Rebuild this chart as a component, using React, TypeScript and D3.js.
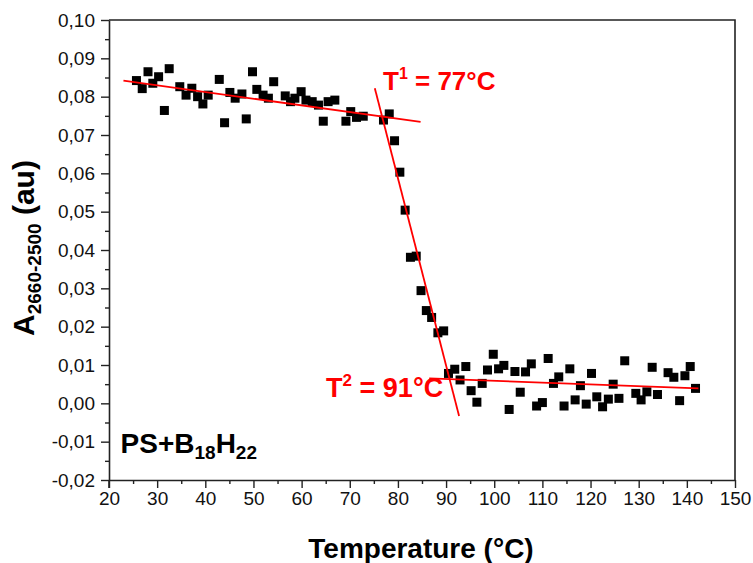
import { useEffect, useRef } from 'react'
import * as d3 from 'd3'

const temperature = [
  25.7, 26.9, 28.1, 29.1, 30.3, 31.5, 32.5, 34.7, 36.0, 37.2, 38.4, 39.5, 40.6, 42.9, 44.0, 45.1,
  46.2, 47.6, 48.5, 49.8, 50.7, 52.0, 53.1, 54.2, 56.6, 57.7, 58.6, 59.9, 60.9, 62.2, 63.5, 64.5,
  65.5, 66.9, 69.2, 70.2, 71.4, 72.8, 77.0, 78.2, 79.3, 80.4, 81.5, 82.6, 83.8, 84.8, 85.9, 87.0,
  88.3, 89.5, 90.5, 91.8, 92.9, 94.1, 95.2, 96.4, 97.5, 98.6, 99.8, 100.9, 102.0, 103.1, 104.3,
  105.4, 106.5, 107.7, 108.8, 110.0, 111.2, 112.3, 113.4, 114.5, 115.7, 116.8, 117.9, 119.1,
  120.2, 121.3, 122.5, 123.7, 124.7, 125.9, 127.1, 129.4, 130.5, 131.7, 132.8, 133.9, 136.1,
  137.3, 138.5, 139.6, 140.7, 141.8,
]
const absorbance = [
  0.0842, 0.0821, 0.0865, 0.0835, 0.0852, 0.0764, 0.0873, 0.0826, 0.0804, 0.0822, 0.08, 0.0781,
  0.0804, 0.0845, 0.0732, 0.0811, 0.0796, 0.0807, 0.0742, 0.0865, 0.0819, 0.0804, 0.0796, 0.0839,
  0.0802, 0.0787, 0.0796, 0.0813, 0.0791, 0.0787, 0.0778, 0.0736, 0.0787, 0.0791, 0.0736, 0.0761,
  0.0746, 0.0749, 0.0739, 0.0755, 0.0685, 0.0603, 0.0504, 0.0381, 0.0384, 0.0294, 0.0242, 0.0224,
  0.0184, 0.0189, 0.0078, 0.0089, 0.0061, 0.0096, 0.0033, 0.0003, 0.0052, 0.0087, 0.0128, 0.009,
  0.0099, -0.0016, 0.0083, 0.0029, 0.0082, 0.0103, -0.0007, 0.0002, 0.0117, 0.0052, 0.0069,
  -0.0007, 0.009, 0.0009, 0.0046, -0.0002, 0.0078, 0.0017, -0.0009, 0.0011, 0.005, 0.0013,
  0.0111, 0.0026, 0.0009, 0.003, 0.0094, 0.0023, 0.008, 0.0068, 0.0007, 0.0072, 0.0096, 0.0039,
]

// red linear fits: [x0, y0, x1, y1]
const fitLines = [
  [23.0, 0.0842, 84.7, 0.0734],
  [75.2, 0.0822, 92.7, -0.0033],
  [86.5, 0.0065, 142.4, 0.0039],
]

const xTicks = [20, 30, 40, 50, 60, 70, 80, 90, 100, 110, 120, 130, 140, 150]
const yTicks = [-0.02, -0.01, 0, 0.01, 0.02, 0.03, 0.04, 0.05, 0.06, 0.07, 0.08, 0.09, 0.1]

const fmtY = (d: number) => d.toFixed(2).replace('.', ',')

export default function App() {
  const svgRef = useRef<SVGSVGElement>(null)

  useEffect(() => {
    const W = 753
    const H = 563
    const margin = { top: 20, right: 18, bottom: 83, left: 109 }
    const innerW = W - margin.left - margin.right
    const innerH = H - margin.top - margin.bottom
    const font = '"Liberation Sans", Arial, sans-serif'

    const x = d3.scaleLinear().domain([20, 150]).range([0, innerW])
    const y = d3.scaleLinear().domain([-0.02, 0.1]).range([innerH, 0])

    const svg = d3.select(svgRef.current)
    svg.selectAll('*').remove()
    svg.attr('width', W).attr('height', H)

    const g = svg.append('g').attr('transform', `translate(${margin.left},${margin.top})`)
    const axisColor = '#222'

    // frame top/right
    g.append('path')
      .attr('d', `M0,0H${innerW}V${innerH}`)
      .attr('fill', 'none').attr('stroke', axisColor).attr('stroke-width', 1.6)

    // x axis
    const xMinor = d3.range(25, 150, 10)
    g.append('g')
      .attr('transform', `translate(0,${innerH})`)
      .call(d3.axisBottom(x).tickValues(xMinor).tickSize(4).tickFormat(() => ''))
      .call((ax) => ax.select('.domain').remove())
      .call((ax) => ax.selectAll('.tick line').attr('stroke', axisColor).attr('stroke-width', 1.4))
    g.append('g')
      .attr('transform', `translate(0,${innerH})`)
      .call(d3.axisBottom(x).tickValues(xTicks).tickSize(8).tickSizeOuter(0).tickPadding(4).tickFormat(d3.format('d')))
      .call((ax) => ax.select('.domain').attr('stroke', axisColor).attr('stroke-width', 1.6))
      .call((ax) => ax.selectAll('.tick line').attr('stroke', axisColor).attr('stroke-width', 1.4))
      .call((ax) => ax.selectAll('text').attr('fill', '#111').attr('font-size', 19).attr('font-family', font))

    // y axis
    const yMinor = d3.range(-0.015, 0.1, 0.01)
    g.append('g')
      .call(d3.axisLeft(y).tickValues(yMinor).tickSize(4).tickFormat(() => ''))
      .call((ax) => ax.select('.domain').remove())
      .call((ax) => ax.selectAll('.tick line').attr('stroke', axisColor).attr('stroke-width', 1.4))
    g.append('g')
      .call(d3.axisLeft(y).tickValues(yTicks).tickSize(8).tickSizeOuter(0).tickPadding(6).tickFormat((d) => fmtY(+d)))
      .call((ax) => ax.select('.domain').attr('stroke', axisColor).attr('stroke-width', 1.6))
      .call((ax) => ax.selectAll('.tick line').attr('stroke', axisColor).attr('stroke-width', 1.4))
      .call((ax) => ax.selectAll('text').attr('fill', '#111').attr('font-size', 19).attr('font-family', font))

    // y axis runs a little below the x axis, as in the reference
    g.append('line').attr('x1', 0).attr('x2', 0).attr('y1', innerH).attr('y2', innerH + 8)
      .attr('stroke', axisColor).attr('stroke-width', 1.6)

    // data squares
    const s = 9
    g.append('g').selectAll('rect')
      .data(temperature.map((t, i) => [t, absorbance[i]]))
      .join('rect')
      .attr('x', (d) => x(d[0]) - s / 2)
      .attr('y', (d) => y(d[1]) - s / 2)
      .attr('width', s).attr('height', s)
      .attr('fill', '#000')

    // fit lines
    g.append('g').selectAll('line')
      .data(fitLines)
      .join('line')
      .attr('x1', (d) => x(d[0])).attr('y1', (d) => y(d[1]))
      .attr('x2', (d) => x(d[2])).attr('y2', (d) => y(d[3]))
      .attr('stroke', '#ff0000').attr('stroke-width', 1.8)

    // annotations
    const t1 = g.append('text').attr('x', x(76.9)).attr('y', y(0.0817))
      .attr('fill', '#ff0000').attr('font-size', 26).attr('font-weight', 'bold').attr('font-family', font)
    t1.append('tspan').text('T')
    t1.append('tspan').attr('dy', -11).attr('font-size', 16).text('1')
    t1.append('tspan').attr('dy', 11).text(' = 77°C')

    const t2 = g.append('text').attr('x', x(89.4)).attr('y', y(0.0016))
      .attr('text-anchor', 'end')
      .attr('fill', '#ff0000').attr('font-size', 27).attr('font-weight', 'bold').attr('font-family', font)
    t2.append('tspan').text('T')
    t2.append('tspan').attr('dy', -11).attr('font-size', 17).text('2')
    t2.append('tspan').attr('dy', 11).text(' = 91°C')

    const ps = g.append('text').attr('x', x(22.4)).attr('y', y(-0.0129))
      .attr('fill', '#000').attr('font-size', 28).attr('font-weight', 'bold').attr('font-family', font)
    ps.append('tspan').text('PS+B')
    ps.append('tspan').attr('dy', 6).attr('font-size', 19).text('18')
    ps.append('tspan').attr('dy', -6).text('H')
    ps.append('tspan').attr('dy', 6).attr('font-size', 19).text('22')

    // axis titles
    svg.append('text')
      .attr('x', 421).attr('y', 558)
      .attr('text-anchor', 'middle')
      .attr('fill', '#000').attr('font-size', 28).attr('font-weight', 'bold').attr('font-family', font)
      .text('Temperature (°C)')

    const yl = svg.append('text')
      .attr('transform', `translate(34,248) rotate(-90)`)
      .attr('text-anchor', 'middle')
      .attr('fill', '#000').attr('font-size', 30).attr('font-weight', 'bold').attr('font-family', font)
    yl.append('tspan').text('A')
    yl.append('tspan').attr('dy', 7).attr('font-size', 19).text('2660-2500')
    yl.append('tspan').attr('dy', -7).text(' (au)')

    return () => { svg.selectAll('*').remove() }
  }, [])

  return (
    <div style={{ position: 'absolute', left: 0, top: 0 }}>
      <svg ref={svgRef} />
    </div>
  )
}
